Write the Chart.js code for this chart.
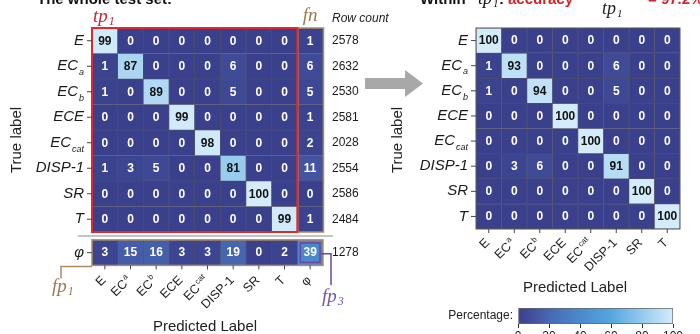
<!DOCTYPE html>
<html lang="en">
<head>
<meta charset="UTF-8">
<title>Confusion matrices</title>
<script src="https://cdn.jsdelivr.net/npm/chart.js"></script>
<style>
    body { margin: 0; background: #ffffff; }
    #wrap { position: relative; width: 700px; height: 334px; overflow: hidden; }
    #wrap canvas { position: absolute; left: 0; }
</style>
</head>
<body>
<div id="wrap">
    <canvas id="leftChart" width="700" height="334" style="top:0"></canvas>
    <canvas id="rightChart" width="700" height="334" style="top:0"></canvas>
    <canvas id="barChart" width="700" height="60" style="top:290px"></canvas>
</div>
<script>
    // class labels (main text + subscript)
    const rowMain = ['E', 'EC', 'EC', 'ECE', 'EC', 'DISP-1', 'SR', 'T'];
    const rowSub = ['', 'a', 'b', '', 'cat', '', '', ''];

    // the whole test set, tp1 block (rows = true, cols = predicted)
    const wholeSet = [
        [99, 0, 0, 0, 0, 0, 0, 0],
        [1, 87, 0, 0, 0, 6, 0, 0],
        [1, 0, 89, 0, 0, 5, 0, 0],
        [0, 0, 0, 99, 0, 0, 0, 0],
        [0, 0, 0, 0, 98, 0, 0, 0],
        [1, 3, 5, 0, 0, 81, 0, 0],
        [0, 0, 0, 0, 0, 0, 100, 0],
        [0, 0, 0, 0, 0, 0, 0, 99]
    ];
    const fnCol = [1, 6, 5, 1, 2, 11, 0, 1];
    const rowCounts = [2578, 2632, 2530, 2581, 2028, 2554, 2586, 2484];
    const phiRow = [3, 15, 16, 3, 3, 19, 0, 2];
    const phiFn = 39;
    const phiCount = 1278;

    // within tp1
    const withinTp1 = [
        [100, 0, 0, 0, 0, 0, 0, 0],
        [1, 93, 0, 0, 0, 6, 0, 0],
        [1, 0, 94, 0, 0, 5, 0, 0],
        [0, 0, 0, 100, 0, 0, 0, 0],
        [0, 0, 0, 0, 100, 0, 0, 0],
        [0, 3, 6, 0, 0, 91, 0, 0],
        [0, 0, 0, 0, 0, 0, 100, 0],
        [0, 0, 0, 0, 0, 0, 0, 100]
    ];
    const barTicks = [0, 20, 40, 60, 80, 100];

    const SANS = '"Liberation Sans", Arial, sans-serif';
    const SERIF = '"Liberation Serif", "Times New Roman", serif';
    const phiGap = 0.31;

    // colormap: dark indigo -> blue -> very light blue
    const cmapStops = [
        [0, [58, 64, 140]], [10, [66, 82, 158]], [20, [72, 104, 178]],
        [40, [74, 138, 204]], [60, [86, 166, 222]], [80, [148, 202, 238]], [100, [212, 236, 250]]
    ];
    function cmap(v) {
        for (let i = 1; i < cmapStops.length; i++) {
            const [v1, c1] = cmapStops[i];
            const [v0, c0] = cmapStops[i - 1];
            if (v <= v1) {
                const t = (v - v0) / (v1 - v0);
                const c = c0.map((a, k) => Math.round(a + (c1[k] - a) * t));
                return 'rgb(' + c.join(',') + ')';
            }
        }
        return 'rgb(212,236,250)';
    }

    function subLabel(ctx, main, sub, x, y, o) {
        const st = o.style || '';
        const fam = o.family || SANS;
        const ss = Math.round(o.size * 0.62);
        ctx.font = st + ' ' + o.size + 'px ' + fam;
        const wm = ctx.measureText(main).width;
        ctx.font = st + ' ' + ss + 'px ' + fam;
        const ws = sub ? ctx.measureText(sub).width + 1 : 0;
        let x0 = x;
        if (o.align === 'right') x0 = x - wm - ws;
        if (o.align === 'center') x0 = x - (wm + ws) / 2;
        ctx.textAlign = 'left';
        ctx.textBaseline = o.baseline || 'middle';
        ctx.fillStyle = o.color || '#111';
        ctx.font = st + ' ' + o.size + 'px ' + fam;
        ctx.fillText(main, x0, y);
        if (sub) {
            ctx.font = st + ' ' + ss + 'px ' + fam;
            ctx.fillText(sub, x0 + wm + 1, y + (o.subDy !== undefined ? o.subDy : o.size * 0.42));
        }
    }

    function cellText(chart, values) {
        const ctx = chart.ctx;
        ctx.save();
        ctx.font = 'bold 12px ' + SANS;
        ctx.textAlign = 'center';
        ctx.textBaseline = 'middle';
        chart.data.datasets.forEach((ds, r) => {
            chart.getDatasetMeta(r).data.forEach((el, c) => {
                const v = values[r][c];
                const p = el.getCenterPoint();
                ctx.fillStyle = v >= 60 ? '#111' : '#ffffff';
                ctx.fillText(String(v), p.x, p.y + 0.5);
            });
        });
        ctx.restore();
    }

    function heatDatasets(values, rowStart) {
        return values.map((row, r) => ({
            data: row.map(() => [rowStart(r), rowStart(r) + 1]),
            backgroundColor: row.map(v => cmap(v)),
            borderColor: 'rgba(70,70,92,0.9)',
            borderWidth: 0.6,
            borderSkipped: false,
            grouped: false,
            barPercentage: 1,
            categoryPercentage: 1
        }));
    }

    // ---------- left: whole test set ----------
    const leftValues = wholeSet.map((row, r) => row.concat(fnCol[r])).concat([phiRow.concat(phiFn)]);
    const leftCols = rowMain.concat(['φ']);
    const leftColSub = rowSub.concat(['']);

    const leftDecor = {
        id: 'leftDecor',
        afterDatasetsDraw(chart) { cellText(chart, leftValues); },
        afterDraw(chart) {
            const ctx = chart.ctx, xs = chart.scales.x, ys = chart.scales.y;
            const cw = xs.width / leftCols.length;
            const left = xs.getPixelForValue(0) - cw / 2;
            const tpRight = xs.getPixelForValue(7) + cw / 2;
            const right = xs.getPixelForValue(8) + cw / 2;
            const top = ys.getPixelForValue(0), bot = ys.getPixelForValue(8);
            const pTop = ys.getPixelForValue(8 + phiGap), pBot = ys.getPixelForValue(9 + phiGap);
            ctx.save();

            // fn column and phi row boxes (brown), tp1 box (red)
            ctx.strokeStyle = '#b08a62';
            ctx.lineWidth = 1.5;
            ctx.strokeRect(tpRight + 0.5, top, right - tpRight, bot - top);
            ctx.strokeRect(left, pTop, right - left, pBot - pTop);
            ctx.strokeStyle = '#e2282c';
            ctx.lineWidth = 2;
            ctx.strokeRect(left, top, tpRight - left, bot - top);

            // purple box around phi -> phi cell
            ctx.strokeStyle = '#6b46a8';
            ctx.lineWidth = 1.5;
            ctx.strokeRect(tpRight + 3, pTop + 3, right - tpRight - 6, pBot - pTop - 6);

            // separator line
            const sepY = ys.getPixelForValue(8 + phiGap / 2);
            ctx.strokeStyle = '#c4c4c4';
            ctx.lineWidth = 2;
            ctx.beginPath(); ctx.moveTo(78, sepY); ctx.lineTo(333, sepY); ctx.stroke();

            // y ticks + labels + row counts
            ctx.lineWidth = 1;
            for (let r = 0; r < 9; r++) {
                const yc = r < 8 ? ys.getPixelForValue(r + 0.5) : ys.getPixelForValue(8.5 + phiGap);
                ctx.strokeStyle = '#444';
                ctx.beginPath(); ctx.moveTo(left - 5, yc); ctx.lineTo(left, yc); ctx.stroke();
                if (r < 8) {
                    subLabel(ctx, rowMain[r], rowSub[r], left - 8, yc, { size: 15, style: 'italic', align: 'right', color: '#1a1a1a' });
                } else {
                    subLabel(ctx, 'φ', '', left - 8, yc, { size: 15, style: 'italic', align: 'right', color: '#1a1a1a' });
                }
                ctx.fillStyle = '#1a1a1a';
                ctx.font = '12px ' + SANS;
                ctx.textAlign = 'left';
                ctx.textBaseline = 'middle';
                ctx.fillText(String(r < 8 ? rowCounts[r] : phiCount), right + 9, yc);
            }

            // x ticks + rotated labels
            for (let c = 0; c < leftCols.length; c++) {
                const xc = xs.getPixelForValue(c);
                ctx.strokeStyle = '#444';
                ctx.beginPath(); ctx.moveTo(xc, pBot); ctx.lineTo(xc, pBot + 4); ctx.stroke();
                ctx.save();
                ctx.translate(xc - 1, pBot + 13);
                ctx.rotate(-Math.PI / 4);
                subLabel(ctx, leftCols[c], leftColSub[c], 0, 0, { size: 12.5, align: 'right', subDy: -4, color: '#1a1a1a' });
                ctx.restore();
            }

            // fp1 bracket
            ctx.strokeStyle = '#b08a62';
            ctx.lineWidth = 1.5;
            ctx.beginPath(); ctx.moveTo(left, pBot + 1); ctx.lineTo(61, pBot + 1); ctx.lineTo(61, pBot + 13); ctx.stroke();
            subLabel(ctx, 'fp', '1', 52, 292, { size: 19, style: 'italic', family: SERIF, baseline: 'alphabetic', color: '#a0784c', subDy: 3 });

            // fp3 bracket
            const pMid = (pTop + pBot) / 2;
            ctx.strokeStyle = '#6b46a8';
            ctx.beginPath(); ctx.moveTo(right - 2, pMid + 1); ctx.lineTo(331, pMid + 1); ctx.lineTo(331, 285); ctx.stroke();
            subLabel(ctx, 'fp', '3', 322, 302, { size: 19, style: 'italic', family: SERIF, baseline: 'alphabetic', color: '#7a4fb8', subDy: 3 });

            // headers
            subLabel(ctx, 'tp', '1', left + 1, 22, { size: 19, style: 'italic', family: SERIF, baseline: 'alphabetic', color: '#c8282c', subDy: 3 });
            subLabel(ctx, 'fn', '', (tpRight + right) / 2, 21, { size: 19, style: 'italic', family: SERIF, baseline: 'alphabetic', align: 'center', color: '#a0784c' });
            ctx.fillStyle = '#1a1a1a';
            ctx.font = 'italic 12px ' + SANS;
            ctx.textAlign = 'left';
            ctx.textBaseline = 'alphabetic';
            ctx.fillText('Row count', right + 9, 22);

            // axis titles
            ctx.font = '15px ' + SANS;
            ctx.fillStyle = '#222';
            ctx.textAlign = 'center';
            ctx.textBaseline = 'middle';
            ctx.fillText('Predicted Label', 205, 327);
            ctx.save();
            ctx.translate(17, 140);
            ctx.rotate(-Math.PI / 2);
            ctx.fillText('True label', 0, 0);
            ctx.restore();

            // cut-off title
            ctx.font = 'bold 15px ' + SANS;
            ctx.fillStyle = '#111';
            ctx.textAlign = 'left';
            ctx.textBaseline = 'alphabetic';
            ctx.fillText('The whole test set:', 37, 4);
            ctx.restore();
        }
    };

    new Chart(document.getElementById('leftChart'), {
        type: 'bar',
        data: {
            labels: leftCols,
            datasets: heatDatasets(leftValues, r => (r < 8 ? r : 8 + phiGap))
        },
        options: {
            responsive: false,
            animation: false,
            devicePixelRatio: 1,
            layout: { padding: { left: 92, right: 377, top: 28, bottom: 68.6 } },
            plugins: { legend: { display: false }, tooltip: { enabled: false } },
            scales: {
                x: { display: false, offset: true },
                y: { display: false, min: 0, max: 9 + phiGap, reverse: true }
            }
        },
        plugins: [leftDecor]
    });

    // ---------- right: within tp1 ----------
    const rightDecor = {
        id: 'rightDecor',
        afterDatasetsDraw(chart) { cellText(chart, withinTp1); },
        afterDraw(chart) {
            const ctx = chart.ctx, xs = chart.scales.x, ys = chart.scales.y;
            const left = chart.chartArea.left, bot = chart.chartArea.bottom;
            ctx.save();
            ctx.strokeStyle = '#555';
            ctx.lineWidth = 1;
            ctx.strokeRect(chart.chartArea.left, chart.chartArea.top, chart.chartArea.width, chart.chartArea.height);
            for (let r = 0; r < 8; r++) {
                const yc = ys.getPixelForValue(r + 0.5);
                ctx.strokeStyle = '#444';
                ctx.beginPath(); ctx.moveTo(left - 5, yc); ctx.lineTo(left, yc); ctx.stroke();
                subLabel(ctx, rowMain[r], rowSub[r], left - 8, yc, { size: 15, style: 'italic', align: 'right', color: '#1a1a1a' });
            }
            for (let c = 0; c < 8; c++) {
                const xc = xs.getPixelForValue(c);
                ctx.strokeStyle = '#444';
                ctx.beginPath(); ctx.moveTo(xc, bot); ctx.lineTo(xc, bot + 4); ctx.stroke();
                ctx.save();
                ctx.translate(xc - 1, bot + 12);
                ctx.rotate(-Math.PI / 4);
                subLabel(ctx, rowMain[c], rowSub[c], 0, 0, { size: 12.5, align: 'right', subDy: -4, color: '#1a1a1a' });
                ctx.restore();
            }

            ctx.font = '15px ' + SANS;
            ctx.fillStyle = '#222';
            ctx.textAlign = 'center';
            ctx.textBaseline = 'middle';
            ctx.fillText('Predicted Label', (chart.chartArea.left + chart.chartArea.right) / 2 - 3, 288);
            ctx.save();
            ctx.translate(398, 140);
            ctx.rotate(-Math.PI / 2);
            ctx.fillText('True label', 0, 0);
            ctx.restore();

            // arrow
            ctx.fillStyle = '#a8a8a8';
            ctx.beginPath();
            ctx.moveTo(365, 78); ctx.lineTo(405, 78); ctx.lineTo(405, 70); ctx.lineTo(423, 83.5);
            ctx.lineTo(405, 97); ctx.lineTo(405, 89); ctx.lineTo(365, 89);
            ctx.closePath(); ctx.fill();

            // cut-off title
            ctx.font = 'bold 15px ' + SANS;
            ctx.fillStyle = '#111';
            ctx.textAlign = 'left';
            ctx.textBaseline = 'alphabetic';
            ctx.fillText('Within', 420, 4);
            subLabel(ctx, 'tp', '1', 478, 4, { size: 18, style: 'italic', family: SERIF, baseline: 'alphabetic', color: '#111', subDy: 3 });
            ctx.font = 'bold 15px ' + SANS;
            ctx.fillStyle = '#111';
            ctx.fillText(':', 499, 4);
            ctx.fillStyle = '#d0262a';
            ctx.fillText('accuracy', 508, 4);
            ctx.fillText('= 97.2%', 648, 4);
            subLabel(ctx, 'tp', '1', 602, 14, { size: 18, style: 'italic', family: SERIF, baseline: 'alphabetic', color: '#222', subDy: 3 });
            ctx.restore();
        }
    };

    new Chart(document.getElementById('rightChart'), {
        type: 'bar',
        data: {
            labels: rowMain.map((m, i) => m + rowSub[i]),
            datasets: heatDatasets(withinTp1, r => r)
        },
        options: {
            responsive: false,
            animation: false,
            devicePixelRatio: 1,
            layout: { padding: { left: 476, right: 20, top: 28, bottom: 105 } },
            plugins: { legend: { display: false }, tooltip: { enabled: false } },
            scales: {
                x: { display: false, offset: true },
                y: { display: false, min: 0, max: 8, reverse: true }
            }
        },
        plugins: [rightDecor]
    });

    // ---------- colour bar ----------
    const barLabel = {
        id: 'barLabel',
        afterDraw(chart) {
            const ctx = chart.ctx, a = chart.chartArea;
            ctx.save();
            ctx.font = '12px ' + SANS;
            ctx.fillStyle = '#222';
            ctx.textAlign = 'right';
            ctx.textBaseline = 'middle';
            ctx.fillText('Percentage:', a.left - 5, (a.top + a.bottom) / 2);
            ctx.restore();
        }
    };

    new Chart(document.getElementById('barChart'), {
        type: 'bar',
        data: {
            labels: ['Percentage'],
            datasets: [{
                data: [[barTicks[0], barTicks[barTicks.length - 1]]],
                backgroundColor: (c) => {
                    const a = c.chart.chartArea;
                    if (!a) return cmap(50);
                    const g = c.chart.ctx.createLinearGradient(a.left, 0, a.right, 0);
                    cmapStops.forEach(([v, col]) => g.addColorStop(v / 100, 'rgb(' + col.join(',') + ')'));
                    return g;
                },
                borderColor: '#666',
                borderWidth: 1,
                borderSkipped: false,
                barPercentage: 1,
                categoryPercentage: 1
            }]
        },
        options: {
            indexAxis: 'y',
            responsive: false,
            animation: false,
            devicePixelRatio: 1,
            layout: { padding: { left: 518, right: 27, top: 18, bottom: 10 } },
            plugins: { legend: { display: false }, tooltip: { enabled: false } },
            scales: {
                y: { display: false },
                x: {
                    min: barTicks[0],
                    max: barTicks[barTicks.length - 1],
                    border: { display: false },
                    grid: { drawOnChartArea: false, tickLength: 4, color: '#333' },
                    ticks: {
                        stepSize: 20,
                        padding: 1,
                        color: '#222',
                        font: { family: SANS, size: 12 }
                    },
                    afterBuildTicks: (axis) => { axis.ticks = barTicks.map(v => ({ value: v })); }
                }
            }
        },
        plugins: [barLabel]
    });
</script>
</body>
</html>
